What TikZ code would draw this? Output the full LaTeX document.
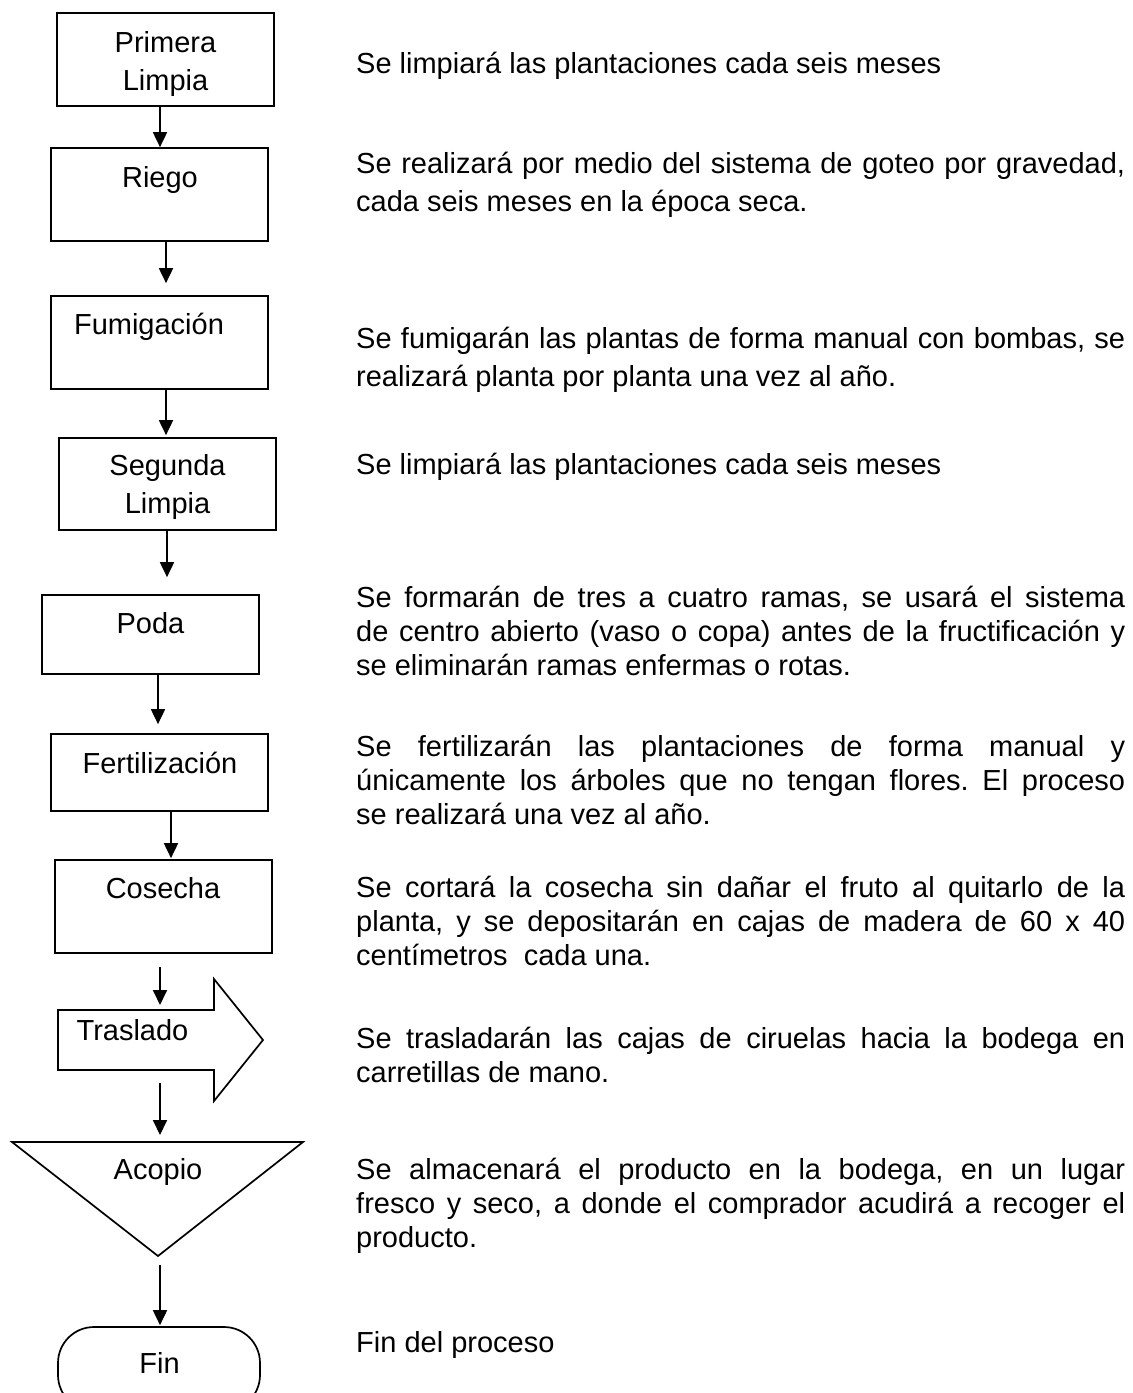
\documentclass[tikz,border=0pt]{standalone}
\usepackage{fontspec}
\setmainfont{Liberation Sans}
\usetikzlibrary{arrows.meta}
\tolerance=10000
\hyphenpenalty=10000
\frenchspacing
\tikzset{
  stepbox/.style={draw, line width=1.7pt, minimum width=217pt, inner sep=0pt},
  shapeline/.style={draw, line width=1.7pt, line join=miter},
  lbl/.style={anchor=base, inner sep=0pt, text width=220pt, align=center, font=\fontsize{29}{38}\selectfont},
  desc/.style={anchor=base west, inner sep=0pt, text width=769pt, align=justify, font=\fontsize{29}{34}\selectfont\frenchspacing},
  descwide/.style={desc, font=\fontsize{29}{38}\selectfont\frenchspacing},
  arr/.style={line width=1.8pt, -{Triangle[length=15pt,width=14pt]}},
}
\begin{document}
\begin{tikzpicture}[x=1pt,y=-1pt]
\useasboundingbox (0,0) rectangle (1133,1393);
\clip (0,0) rectangle (1133,1393);

% boxes
\node[stepbox, minimum height=93pt] (pl) at (165.5,59.5) {};
\node[stepbox, minimum height=93pt] (riego) at (159.5,194.5) {};
\node[stepbox, minimum height=93pt] (fum) at (159.5,342.5) {};
\node[stepbox, minimum height=92pt] (seg) at (167.5,484) {};
\node[stepbox, minimum height=79pt] (poda) at (150.5,634.5) {};
\node[stepbox, minimum height=77pt] (fert) at (159.5,772.5) {};
\node[stepbox, minimum height=93pt] (cos) at (163.5,906.5) {};

% traslado arrow shape
\draw[shapeline] (58,1010) -- (214,1010) -- (214,979) -- (263,1040) -- (214,1101) -- (214,1070) -- (58,1070) -- cycle;
\coordinate (trT) at (160,1010);
\coordinate (trB) at (160,1070);

% acopio triangle
\draw[shapeline] (12,1142) -- (303,1142) -- (158,1256) -- cycle;
\coordinate (acT) at (160,1142);
\coordinate (acB) at (160,1256);

% fin terminal
\node[draw, line width=1.7pt, rounded corners=36pt, minimum width=202pt, minimum height=84pt, inner sep=0pt] (fin) at (159,1369) {};

% labels
\node[lbl] (tpl) at (165.5,52) {Primera\\Limpia};
\node[lbl] (triego) at (160,187) {Riego};
\node[lbl] (tfum) at (149,334) {Fumigación};
\node[lbl] (tseg) at (167.5,475) {Segunda\\Limpia};
\node[lbl] (tpoda) at (150.5,633) {Poda};
\node[lbl] (tfert) at (160,773) {Fertilización};
\node[lbl] (tcos) at (163,898) {Cosecha};
\node[lbl] (ttr) at (132.5,1040) {Traslado};
\node[lbl] (tac) at (158,1179) {Acopio};
\node[lbl] (tfin) at (159.5,1373) {Fin};

% connectors
\draw[arr] ([xshift=-5.5pt]pl.south) -- ([xshift=0.5pt]riego.north);
\draw[arr, shorten >=12pt] ([xshift=6.5pt]riego.south) -- ([xshift=6.5pt]fum.north);
\draw[arr, shorten >=2pt] ([xshift=6.5pt]fum.south) -- ([xshift=-1.5pt]seg.north);
\draw[arr, shorten >=17pt] ([xshift=-0.5pt]seg.south) -- ([xshift=16.5pt]poda.north);
\draw[arr, shorten >=9pt] ([xshift=7.5pt]poda.south) -- ([xshift=-1.5pt]fert.north);
\draw[arr, shorten >=1pt] ([xshift=11.5pt]fert.south) -- ([xshift=7.5pt]cos.north);
\draw[arr, shorten <=13pt, shorten >=5pt] ([xshift=-3.5pt]cos.south) -- (trT);
\draw[arr, shorten <=13pt, shorten >=7pt] (trB) -- (acT);
\draw[arr, shorten <=9pt, shorten >=1pt] (acB) -- ([xshift=1pt]fin.north);

% descriptions
\node[desc] (d1) at (356,73) {Se limpiará las plantaciones cada seis meses};
\node[descwide] (d2) at (356,173) {Se realizará por medio del sistema de goteo por gravedad,\linebreak cada seis meses en la época seca.};
\node[descwide] (d3) at (356,348) {Se fumigarán las plantas de forma manual con bombas, se\linebreak realizará planta por planta una vez al año.};
\node[desc] (d4) at (356,474) {Se limpiará las plantaciones cada seis meses};
\node[desc] (d5) at (356,607) {Se formarán de tres a cuatro ramas, se usará el sistema\linebreak de centro abierto (vaso o copa) antes de la fructificación y\linebreak se eliminarán ramas enfermas o rotas.};
\node[desc] (d6) at (356,756) {Se fertilizarán las plantaciones de forma manual y\linebreak únicamente los árboles que no tengan flores. El proceso\linebreak se realizará una vez al año.};
\node[desc] (d7) at (356,897) {Se cortará la cosecha sin dañar el fruto al quitarlo de la\linebreak planta, y se depositarán en cajas de madera de 60 x 40\linebreak centímetros\ \ cada una.};
\node[desc] (d8) at (356,1048) {Se trasladarán las cajas de ciruelas hacia la bodega en\linebreak carretillas de mano.};
\node[desc] (d9) at (356,1179) {Se almacenará el producto en la bodega, en un lugar\linebreak fresco y seco, a donde el comprador acudirá a recoger el\linebreak producto.};
\node[desc] (d10) at (356,1352) {Fin del proceso};
\end{tikzpicture}
\end{document}
